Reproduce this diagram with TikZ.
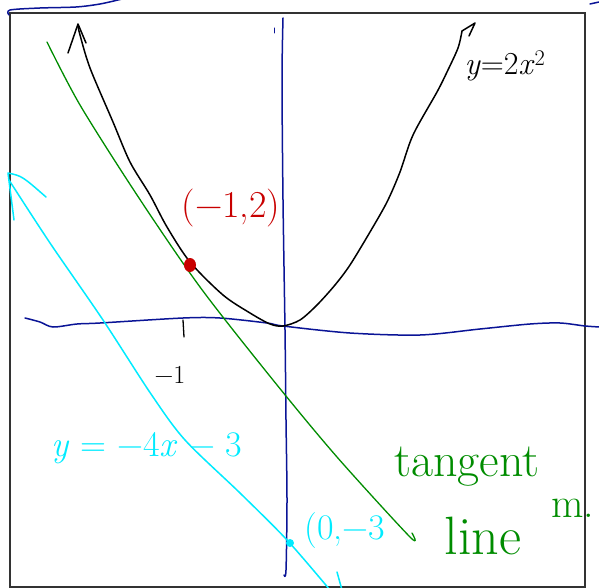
\documentclass[tikz,border=0pt]{standalone}
\usetikzlibrary{positioning}
\definecolor{axisblue}{RGB}{10,20,150}
\definecolor{tangreen}{RGB}{0,140,0}
\definecolor{parcyan}{RGB}{0,235,255}
\definecolor{pointred}{RGB}{200,0,0}
\begin{document}
\begin{tikzpicture}[x=1pt, y=-1pt, node distance=69pt]
    % Styles
    \tikzstyle{axisline} = [draw=axisblue, line width=1.5pt, line cap=round, line join=round]
    \tikzstyle{curveline} = [draw=black, line width=1.5pt, line cap=round, line join=round]
    \tikzstyle{tanline} = [draw=tangreen, line width=1.3pt, line cap=round, line join=round]
    \tikzstyle{parline} = [draw=parcyan, line width=1.5pt, line cap=round, line join=round]
    \tikzstyle{note} = [inner sep=0pt, align=center]
    \useasboundingbox (0,0) rectangle (599,588);

    % Frame
    \draw [draw=black!80, line width=1.5pt] (10,13) rectangle (585,587);

    % Axes
    \draw [axisline] plot[smooth] coordinates {(9,15) (10,10) (40,8) (76,7) (100,4) (122,-1)};
    \draw [axisline] (590,4) -- (599,2);
    \draw [axisline] plot[smooth] coordinates {(25,318) (40,322) (53,327) (77,324) (100,323) (183,318) (220,318) (267,323) (283,326) (350,333) (420,335) (480,329) (530,324) (560,323) (585,326) (600,327)};
    \draw [axisline] plot[smooth] coordinates {(283,18) (282,80) (283,200) (285,330) (286,420) (287,500) (286,570) (284,575)};
    \draw [axisline, line width=1pt] (274,28) -- (274,33);
    \draw [curveline, line width=1.3pt] (183,320) -- (184,337);

    % Curves
    \draw [tanline] plot[smooth] coordinates {(47,42) (80,105) (137,195) (200,287) (273,380) (337,457) (410,537) (412,533)};
    \draw [curveline] plot[smooth] coordinates {(78,26) (80,35) (90,68) (113,122) (130,162) (150,195) (167,227) (190,262) (223,295) (250,313) (270,324) (283,326) (300,320) (317,305) (335,285) (350,265) (370,232) (387,202) (400,172) (413,135) (437,92) (447,72) (458,48) (462,31)};
    \draw [curveline] (68,53) -- (78,24) -- (86,43);
    \draw [curveline] (462,31) -- (475,23) -- (469,36);
    \draw [parline] plot[smooth] coordinates {(9,180) (50,243) (103,320) (151,394) (185,440) (240,493) (287,540) (330,590)};
    \draw [parline] (14,220) -- (8,173) .. controls (22,176) .. (46,197);
    \draw [parline] (337,572) -- (342,590);

    % Points
    \fill [pointred] (190,265) ellipse (6 and 7);
    \fill [parcyan] (290,543) circle (4);

    % Labels
    \node [note, text=pointred, font=\fontsize{38}{38}\selectfont] (pointlabel) at (231,208) {(−1,2)};
    \node [note, font=\fontsize{32}{32}\selectfont] (parlabel) at (505,66) {\textit{y}=2\textit{x}\textsuperscript{2}};
    \node [note, font=\fontsize{26}{26}\selectfont] (ticklabel) at (170,375) {−1};
    \node [note, text=parcyan, font=\fontsize{36}{36}\selectfont] (linelabel) at (147,448) {\textit{y} = −4\textit{x} − 3};
    \node [note, text=parcyan, font=\fontsize{36}{36}\selectfont] (interceptlabel) at (345,531) {(0,−3};
    \node [note, text=tangreen, font=\fontsize{48}{48}\selectfont] (tangentlabel) at (467,467) {tangent};
    \node [note, text=tangreen, font=\fontsize{54}{54}\selectfont, below of=tangentlabel, xshift=16pt] (tangentline) {line};
    \node [note, text=tangreen, font=\fontsize{42}{42}\selectfont] (slopelabel) at (573,508) {m.};
\end{tikzpicture}
\end{document}
